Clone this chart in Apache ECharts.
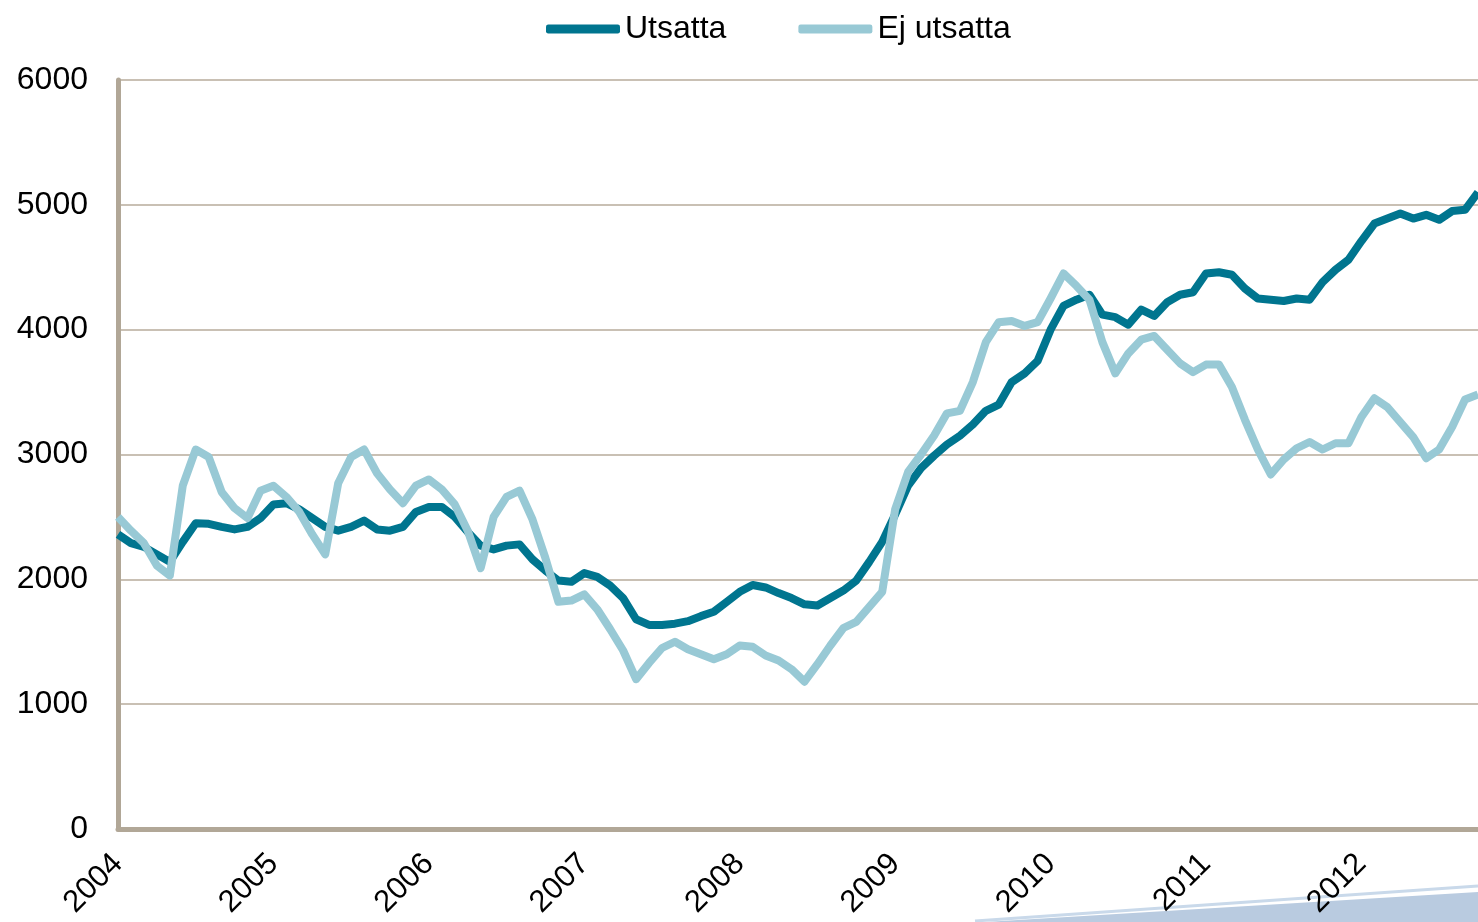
<!DOCTYPE html>
<html>
<head>
<meta charset="utf-8">
<title>Utsatta / Ej utsatta</title>
<script src="https://cdn.jsdelivr.net/npm/echarts@6/dist/echarts.min.js"></script>
<style>
    html, body { margin: 0; padding: 0; background: #fff; }
    #chart { width: 1478px; height: 922px; }
</style>
</head>
<body>
<div id="chart"></div>
<script>
// år på x-axeln, månadsdata jan 2004 - okt 2012
const years = [2004, 2005, 2006, 2007, 2008, 2009, 2010, 2011, 2012]
const monthsInLastYear = 10
const yTicks = [0, 1000, 2000, 3000, 4000, 5000, 6000]

const utsatta = [
    2360, 2290, 2260, 2200, 2140, 2300, 2450, 2445, 2420, 2400, 2420, 2490,
    2600, 2610, 2560, 2490, 2420, 2390, 2420, 2470, 2400, 2390, 2420, 2540,
    2580, 2580, 2500, 2380, 2270, 2240, 2270, 2280, 2160, 2070, 1990, 1980,
    2050, 2020, 1950, 1850, 1680, 1635, 1635, 1645, 1665, 1705, 1740, 1820,
    1900, 1955, 1935, 1890, 1850, 1800, 1790, 1850, 1910, 1990, 2140, 2300,
    2520, 2750, 2890, 2990, 3080, 3150, 3240, 3350, 3400, 3580, 3650, 3750,
    4000, 4190, 4240, 4280, 4120, 4100, 4040, 4160, 4110, 4220, 4280, 4300,
    4450, 4460, 4440, 4330, 4250, 4240, 4230, 4250, 4240, 4380, 4480, 4560,
    4710, 4850, 4890, 4930, 4890, 4920, 4880, 4950, 4960, 5100
]
const ejUtsatta = [
    2500, 2390, 2290, 2110, 2030, 2750, 3040, 2980, 2700, 2570, 2490, 2710,
    2750, 2660, 2540, 2360, 2200, 2770, 2980, 3040, 2850, 2720, 2610, 2750,
    2800, 2720, 2600, 2390, 2090, 2500, 2660, 2710, 2480, 2170, 1820, 1830,
    1880, 1760, 1600, 1430, 1200, 1330, 1450, 1500, 1440, 1400, 1360, 1400,
    1470, 1460, 1390, 1350, 1280, 1180, 1320, 1470, 1610, 1660, 1780, 1900,
    2560, 2860, 3000, 3150, 3330, 3350, 3580, 3900, 4060, 4070, 4030, 4060,
    4250, 4450, 4350, 4240, 3900, 3650, 3810, 3920, 3950, 3840, 3730, 3660,
    3720, 3720, 3540, 3280, 3040, 2840, 2960, 3050, 3100, 3040, 3090, 3090,
    3300, 3450, 3380, 3260, 3140, 2970, 3040, 3220, 3440, 3480
]

// kategorier: en per månad
const months = []
years.forEach((y, yi) => {
    const n = yi === years.length - 1 ? monthsInLastYear : 12
    for (let m = 1; m <= n; m++) months.push(y + '-' + (m > 9 ? m : '0' + m))
})

const fontFamily = "'Liberation Sans', Arial, sans-serif"
const axisColor = '#b1a797'
const gridColor = '#c9c0b4'

const myChart = echarts.init(document.getElementById('chart'))
const options = {
    animation: false,
    color: ['#00758f', '#98c9d5'],
    legend: {
        left: 541,
        top: 8,
        icon: 'roundRect',
        itemWidth: 74,
        itemHeight: 9,
        itemGap: 72,
        textStyle: { fontFamily, fontSize: 32, color: '#000' },
        data: ['Utsatta', 'Ej utsatta']
    },
    grid: {
        left: 118,
        right: 0,
        top: 80,
        bottom: 93,
        outerBoundsMode: 'none'
    },
    xAxis: {
        type: 'category',
        boundaryGap: false,
        data: months,
        axisLine: { lineStyle: { color: axisColor, width: 5 } },
        axisTick: { show: false },
        axisLabel: {
            interval: (index) => index % 12 === 0,
            formatter: (val) => val.slice(0, 4),
            rotate: 45,
            margin: 30,
            fontFamily,
            fontSize: 31,
            color: '#000'
        }
    },
    yAxis: {
        type: 'value',
        min: yTicks[0],
        max: yTicks[yTicks.length - 1],
        interval: 1000,
        axisLine: { show: true, lineStyle: { color: axisColor, width: 5 } },
        axisTick: { show: false },
        axisLabel: {
            margin: 30,
            fontFamily,
            fontSize: 32,
            color: '#000',
            formatter: (v) => String(v)
        },
        splitLine: { lineStyle: { color: gridColor, width: 2 } }
    },
    graphic: [
        {
            type: 'polygon',
            z: -1,
            shape: { points: [[985, 922], [1478, 892], [1478, 922]] },
            style: { fill: '#b9cbe0' }
        },
        {
            type: 'polyline',
            z: -1,
            shape: { points: [[975, 921], [1478, 886]] },
            style: { stroke: '#c9d9ea', lineWidth: 3, fill: null }
        }
    ],
    series: [
        {
            name: 'Utsatta',
            type: 'line',
            data: utsatta,
            showSymbol: false,
            lineStyle: { width: 8, join: 'round' }
        },
        {
            name: 'Ej utsatta',
            type: 'line',
            data: ejUtsatta,
            showSymbol: false,
            lineStyle: { width: 8, join: 'round' }
        }
    ]
}
myChart.setOption(options)
</script>
</body>
</html>
